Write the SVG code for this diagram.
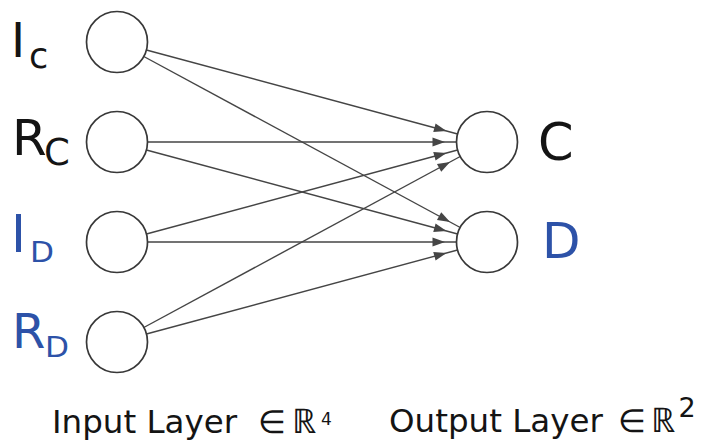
<svg xmlns="http://www.w3.org/2000/svg" width="704" height="443" viewBox="0 0 704 443">
  <style>
    .node { fill: #ffffff; stroke: #383838; stroke-width: 1.7; }
    .edge { stroke: #454545; stroke-width: 1.4; fill: none; marker-end: url(#arrow); }
    .lbl { font-family: "DejaVu Sans", Verdana, sans-serif; fill: #141414; }
    .sym { font-family: "DejaVu Sans", sans-serif; font-weight: 200; fill: #141414; }
    .blue { fill: #2d52a8; }
  </style>
  <defs>
    <!-- arrowhead sits a little short of the target circle -->
    <marker id="arrow" markerUnits="userSpaceOnUse" markerWidth="40" markerHeight="12"
            viewBox="0 0 40 12" refX="24" refY="6" orient="auto" overflow="visible">
      <path d="M0,1.5 L12.5,6 L0,10.5 z" fill="#454545"/>
    </marker>
  </defs>

  <rect width="704" height="443" fill="#ffffff"/>

  <g id="connectors">
    <line class="edge" x1="146.4" y1="50.0" x2="457.6" y2="134.0"/>
    <line class="edge" x1="143.8" y1="56.5" x2="460.2" y2="227.5"/>
    <line class="edge" x1="147.5" y1="142" x2="456.5" y2="142"/>
    <line class="edge" x1="146.4" y1="150.0" x2="457.6" y2="234.0"/>
    <line class="edge" x1="146.4" y1="234.0" x2="457.6" y2="150.0"/>
    <line class="edge" x1="147.5" y1="242" x2="456.5" y2="242"/>
    <line class="edge" x1="143.8" y1="327.5" x2="460.2" y2="156.5"/>
    <line class="edge" x1="146.4" y1="334.0" x2="457.6" y2="250.0"/>
  </g>

  <g id="in-Ic">
    <circle class="node" cx="117" cy="42" r="30.5"/>
    <text class="lbl" x="11" y="57" font-size="48">I</text>
    <text class="lbl" x="29" y="68" font-size="35">c</text>
  </g>
  <g id="in-Rc">
    <circle class="node" cx="117" cy="142" r="30.5"/>
    <text class="lbl" x="12" y="155" font-size="50">R</text>
    <text class="lbl" x="44" y="165" font-size="37">C</text>
  </g>
  <g id="in-Id">
    <circle class="node" cx="117" cy="242" r="30.5"/>
    <text class="lbl blue" x="11" y="252" font-size="51">I</text>
    <text class="lbl blue" x="30" y="262" font-size="28" textLength="24" lengthAdjust="spacingAndGlyphs">D</text>
  </g>
  <g id="in-Rd">
    <circle class="node" cx="117" cy="342" r="30.5"/>
    <text class="lbl blue" x="12" y="348" font-size="48">R</text>
    <text class="lbl blue" x="45" y="357" font-size="28" textLength="24" lengthAdjust="spacingAndGlyphs">D</text>
  </g>

  <g id="out-C">
    <circle class="node" cx="487" cy="142" r="30.5"/>
    <text class="lbl" x="538" y="160" font-size="51">C</text>
  </g>
  <g id="out-D">
    <circle class="node" cx="487" cy="242" r="30.5"/>
    <text class="lbl blue" x="542" y="258" font-size="50">D</text>
  </g>

  <g id="caption-input">
    <text class="lbl" x="52" y="433" font-size="32.5">Input Layer</text>
    <text class="sym" x="258" y="433" font-size="32" textLength="28" lengthAdjust="spacingAndGlyphs">∈</text>
    <text class="sym" x="292" y="433" font-size="34">ℝ</text>
    <text class="lbl" x="326.5" y="425" font-size="17" text-anchor="middle">4</text>
  </g>
  <g id="caption-output">
    <text class="lbl" x="389" y="432" font-size="32.5">Output Layer</text>
    <text class="sym" x="618" y="432" font-size="32" textLength="28" lengthAdjust="spacingAndGlyphs">∈</text>
    <text class="sym" x="651" y="432" font-size="34">ℝ</text>
    <text class="lbl" x="687" y="417" font-size="27" text-anchor="middle">2</text>
  </g>
</svg>
